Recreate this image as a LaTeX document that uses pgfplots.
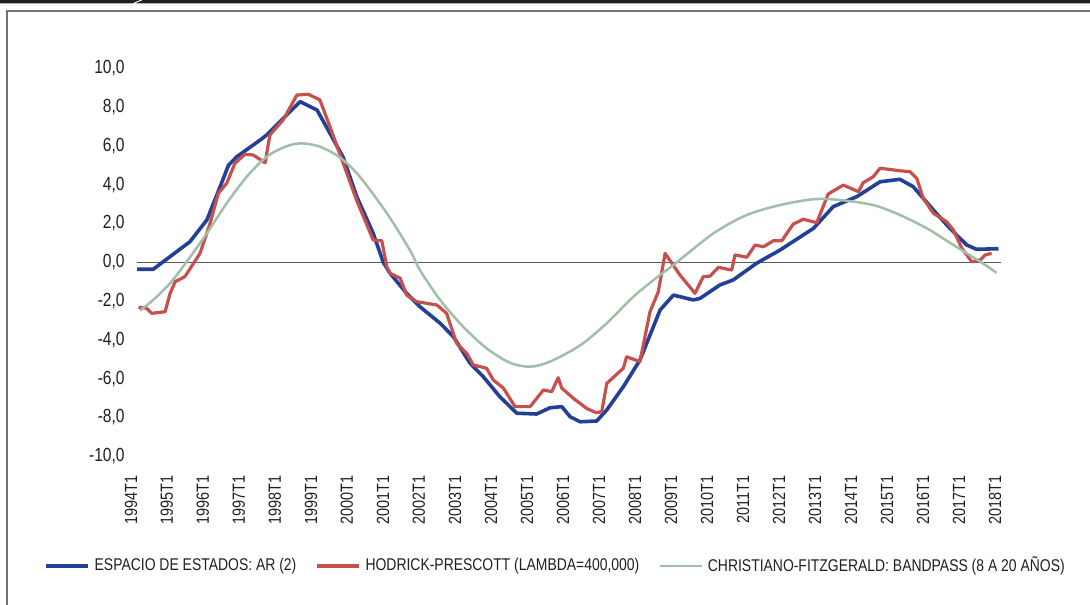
\documentclass[border=0pt]{standalone}
\usepackage{pgfplots}
\pgfplotsset{compat=1.18}
\usepackage{fontspec}
\setmainfont{Liberation Sans}[FakeStretch=0.82]
\definecolor{cblue}{RGB}{34,64,150}
\definecolor{cred}{RGB}{199,80,77}
\definecolor{cgreen}{RGB}{160,190,168}
\definecolor{ctext}{RGB}{35,31,32}
\begin{document}
\begin{tikzpicture}
\begin{axis}[
  scale only axis,
  width=432pt, height=194pt,
  xmin=1994, xmax=2018, ymin=-10, ymax=10,
  axis line style={draw=none},
  tick style={draw=none},
  major tick length=0pt,
  xtick={1994,1995,...,2018},
  xticklabels={1994T1,1995T1,1996T1,1997T1,1998T1,1999T1,2000T1,2001T1,2002T1,2003T1,2004T1,2005T1,2006T1,2007T1,2008T1,2009T1,2010T1,2011T1,2012T1,2013T1,2014T1,2015T1,2016T1,2017T1,2018T1},
  xticklabel style={rotate=90, anchor=base east, inner sep=0pt, font=\fontsize{8.8}{10}\selectfont, text=ctext},
  xticklabel shift=9.5pt,
  ytick={-10,-8,...,10},
  yticklabels={{-10,0},{-8,0},{-6,0},{-4,0},{-2,0},{0,0},{2,0},{4,0},{6,0},{8,0},{10,0}},
  yticklabel style={anchor=east, inner sep=0pt, font=\fontsize{9.5}{11}\selectfont, text=ctext},
  yticklabel shift=6pt,
  legend columns=3,
  legend style={at={(-0.108,-0.2827)}, anchor=west, draw=none, fill=none, inner sep=0pt,
    font=\fontsize{8.5}{10}\selectfont, text=ctext,
    /tikz/every even column/.append style={column sep=7pt},
    nodes={inner sep=2.5pt}},
  legend cell align=left,
  legend image code/.code={\draw[#1] (0pt,0pt) -- (21pt,0pt);},
  clip=false,
]
\draw[color=black!65, line width=0.55pt] (axis cs:1994,0) -- (axis cs:2018,0);
\addplot[color=cblue, line width=1.8pt, line join=round] coordinates {
(1994.00,-0.36) (1994.45,-0.36) (1994.73,0.03) (1995.47,1.06) (1995.94,2.18)
(1996.31,3.9) (1996.54,5.0) (1996.77,5.44) (1997.42,6.3) (1997.60,6.56)
(1998.16,7.6) (1998.53,8.28) (1999.0,7.85) (1999.36,6.65) (1999.73,5.4)
(2000.10,3.4) (2000.56,1.5) (2000.84,0.0) (2001.03,-0.57) (2001.49,-1.6)
(2001.86,-2.29) (2002.42,-3.14) (2002.79,-3.84) (2003.25,-5.2) (2003.62,-5.9)
(2004.08,-6.93) (2004.55,-7.78) (2005.10,-7.82) (2005.47,-7.5) (2005.80,-7.44)
(2006.03,-7.96) (2006.31,-8.22) (2006.77,-8.18) (2007.05,-7.61) (2007.51,-6.41)
(2007.97,-5.04) (2008.53,-2.46) (2008.90,-1.69) (2009.45,-1.94) (2009.64,-1.86)
(2010.19,-1.17) (2010.56,-0.91) (2011.21,-0.05) (2011.86,0.63) (2012.79,1.75)
(2013.34,2.87) (2013.99,3.38) (2014.64,4.15) (2015.19,4.28) (2015.56,3.9)
(2016.12,2.7) (2016.58,1.75) (2017.05,0.89) (2017.32,0.67) (2017.93,0.70)
};
\addlegendentry{ESPACIO DE ESTADOS: AR (2)}
\addplot[color=cred, line width=1.6pt, line join=round] coordinates {
(1994.04,-2.32) (1994.27,-2.37) (1994.41,-2.63) (1994.78,-2.55) (1994.92,-1.6)
(1995.06,-1.0) (1995.33,-0.74) (1995.75,0.46) (1996.03,2.01) (1996.26,3.56)
(1996.49,4.07) (1996.72,5.1) (1997.0,5.57) (1997.23,5.53) (1997.56,5.13)
(1997.69,6.56) (1998.06,7.34) (1998.44,8.62) (1998.76,8.66) (1999.08,8.37)
(1999.36,6.99) (1999.73,5.1) (2000.10,3.2) (2000.56,1.15) (2000.80,1.11)
(2000.94,-0.23) (2001.03,-0.57) (2001.31,-0.82) (2001.49,-1.69) (2001.77,-2.03)
(2002.33,-2.2) (2002.60,-2.63) (2002.88,-4.18) (2003.16,-4.69) (2003.34,-5.29)
(2003.71,-5.46) (2003.90,-6.07) (2004.18,-6.49) (2004.50,-7.44) (2004.92,-7.44)
(2005.29,-6.58) (2005.52,-6.67) (2005.70,-5.95) (2005.80,-6.49) (2006.12,-7.01)
(2006.49,-7.53) (2006.75,-7.75) (2006.91,-7.7) (2007.05,-6.24) (2007.51,-5.46)
(2007.60,-4.87) (2007.97,-5.12) (2008.25,-2.55) (2008.48,-1.52) (2008.67,0.46)
(2009.08,-0.65) (2009.50,-1.6) (2009.73,-0.74) (2009.92,-0.71) (2010.15,-0.26)
(2010.52,-0.40) (2010.61,0.38) (2010.94,0.26) (2011.17,0.89) (2011.40,0.80)
(2011.68,1.11) (2011.91,1.11) (2012.23,1.97) (2012.51,2.22) (2012.88,2.04)
(2013.20,3.52) (2013.62,3.98) (2014.04,3.64) (2014.17,4.10) (2014.45,4.41)
(2014.64,4.85) (2015.19,4.72) (2015.47,4.67) (2015.66,4.33) (2015.84,3.30)
(2016.12,2.53) (2016.49,2.09) (2016.68,1.66) (2016.91,0.72) (2017.19,0.03)
(2017.42,0.12) (2017.56,0.38) (2017.74,0.46)
};
\addlegendentry{HODRICK-PRESCOTT (LAMBDA=400,000)}
\addplot[color=cgreen, line width=1.25pt, smooth, tension=0.5] coordinates {
(1994.08,-2.49) (1994.45,-1.94) (1994.92,-1.08) (1995.38,0.03) (1995.94,1.49)
(1996.49,3.04) (1997.05,4.41) (1997.60,5.44) (1998.16,5.99) (1998.58,6.13)
(1999.08,5.96) (1999.64,5.40) (2000.19,4.41) (2000.94,2.53) (2001.58,0.63)
(2001.86,-0.40) (2002.42,-1.94) (2003.06,-3.32) (2003.71,-4.43) (2004.36,-5.18)
(2004.92,-5.38) (2005.47,-5.12) (2006.31,-4.28) (2007.05,-3.14) (2007.79,-1.77)
(2008.53,-0.65) (2008.90,-0.14) (2010.01,1.49) (2010.94,2.44) (2011.86,2.95)
(2012.79,3.25) (2013.53,3.21) (2014.45,2.95) (2015.19,2.44) (2015.94,1.75)
(2016.68,0.89) (2017.42,0.03) (2017.88,-0.54)
};
\addlegendentry{CHRISTIANO-FITZGERALD: BANDPASS (8 A 20 AÑOS)}
\end{axis}
% decorations: top bar and frame
\fill[ctext] (-68.5pt,228.15pt) -- (1.5pt,228.15pt) -- (-2.5pt,226.4pt) -- (-68.5pt,226.4pt) -- cycle;
\fill[ctext] (3pt,228.15pt) -- (476.5pt,228.15pt) -- (476.5pt,226.4pt) -- (-1pt,226.4pt) -- cycle;
\draw[color=black!55, line width=0.75pt] (476.5pt,222.65pt) -- (-65pt,222.65pt) -- (-65pt,-80pt);
\pgfresetboundingbox
\path[use as bounding box] (-68.5pt,-73.85pt) rectangle (476.5pt,228.15pt);
\end{tikzpicture}
\end{document}
